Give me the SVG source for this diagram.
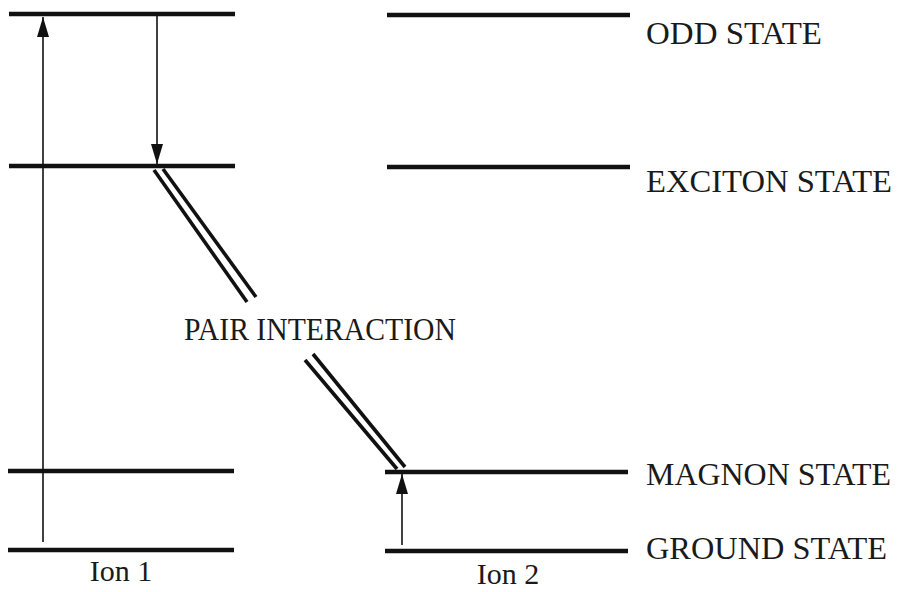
<svg xmlns="http://www.w3.org/2000/svg" width="897" height="592" viewBox="0 0 897 592">
  <defs>
    <style>
      .level { stroke: #111; stroke-width: 4.5; fill: none; }
      .trans { stroke: #111; stroke-width: 1.6; fill: none; }
      .pair { stroke: #111; stroke-width: 3.6; fill: none; stroke-linecap: butt; }
      .lbl { font-family: "Liberation Serif", "Times New Roman", serif; font-size: 31px; fill: #1a1a1a; }
      .ion { font-family: "Liberation Serif", "Times New Roman", serif; font-size: 30px; fill: #1a1a1a; text-anchor: middle; }
    </style>
    <marker id="tri" viewBox="0 0 20 12" refX="20" refY="6" markerWidth="20" markerHeight="12" markerUnits="userSpaceOnUse" orient="auto">
      <path d="M0,0 L20,6 L0,12 Z" fill="#111"/>
    </marker>
  </defs>
  <rect width="897" height="592" fill="#ffffff"/>

  <!-- Ion 1 energy levels -->
  <g id="ion1">
    <line class="level" x1="9" y1="14" x2="235" y2="14"/>
    <line class="level" x1="9" y1="166" x2="235" y2="166"/>
    <line class="level" x1="8" y1="471" x2="234" y2="471"/>
    <line class="level" x1="8" y1="550" x2="234" y2="550"/>
    <text class="ion" x="121" y="581">Ion 1</text>
  </g>

  <!-- Ion 2 energy levels -->
  <g id="ion2">
    <line class="level" x1="387" y1="15" x2="630" y2="15"/>
    <line class="level" x1="387" y1="167" x2="630" y2="167"/>
    <line class="level" x1="385" y1="472" x2="628" y2="472"/>
    <line class="level" x1="385" y1="551" x2="628" y2="551"/>
    <text class="ion" x="508" y="584">Ion 2</text>
  </g>

  <!-- State labels -->
  <g id="labels">
    <text class="lbl" x="646" y="44" textLength="176" lengthAdjust="spacingAndGlyphs">ODD STATE</text>
    <text class="lbl" x="646" y="192" textLength="246" lengthAdjust="spacingAndGlyphs">EXCITON STATE</text>
    <text class="lbl" x="646" y="485" textLength="245" lengthAdjust="spacingAndGlyphs">MAGNON STATE</text>
    <text class="lbl" x="646" y="559" textLength="241" lengthAdjust="spacingAndGlyphs">GROUND STATE</text>
  </g>

  <!-- Transitions and pair interaction -->
  <g id="connectors">
    <line class="trans" x1="43" y1="542" x2="43" y2="17" marker-end="url(#tri)"/>
    <line class="trans" x1="157" y1="16" x2="157" y2="164" marker-end="url(#tri)"/>
    <line class="trans" x1="402" y1="545" x2="402" y2="474" marker-end="url(#tri)"/>

    <line class="pair" x1="154" y1="170" x2="247" y2="302"/>
    <line class="pair" x1="163" y1="169" x2="256" y2="297"/>
    <line class="pair" x1="305" y1="360" x2="397" y2="469"/>
    <line class="pair" x1="313" y1="354" x2="405" y2="467"/>
  </g>

  <g id="pair-label">
    <text class="lbl" x="184" y="340" textLength="272" lengthAdjust="spacingAndGlyphs">PAIR INTERACTION</text>
  </g>
</svg>
